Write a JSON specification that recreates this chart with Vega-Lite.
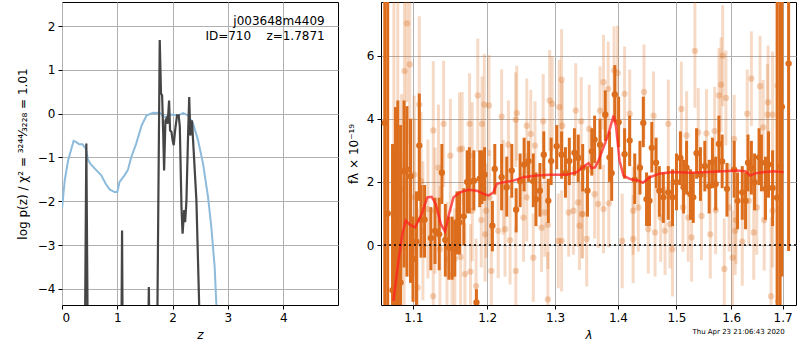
{
  "$schema": "https://vega.github.io/schema/vega-lite/v6.json",
  "padding": {"left": 15, "top": 1, "right": 0, "bottom": 0},
  "background": "white",
  "spacing": 7,
  "config": {
    "view": {"stroke": "black", "strokeWidth": 1},
    "axis": {"grid": true, "gridColor": "#b0b0b0", "gridWidth": 1, "gridOpacity": 1, "domain": false, "tickColor": "black", "tickSize": 4, "labelColor": "black", "labelFont": "DejaVu Sans", "labelFontSize": 12, "titleFont": "DejaVu Sans", "titleFontSize": 12, "titleFontWeight": "normal", "titleColor": "black", "labelPadding": 3},
    "text": {"font": "DejaVu Sans"}
  },
  "datasets": {
    "blue": [
      {"z": 0.0, "lp": -2.17}, {"z": 0.05, "lp": -1.52}, {"z": 0.11, "lp": -1.07}, {"z": 0.17, "lp": -0.8}, {"z": 0.21, "lp": -0.62}, {"z": 0.26, "lp": -0.65}, {"z": 0.31, "lp": -0.7}, {"z": 0.37, "lp": -0.7}, {"z": 0.43, "lp": -0.8}, {"z": 0.47, "lp": -1.05}, {"z": 0.51, "lp": -1.14}, {"z": 0.62, "lp": -1.29}, {"z": 0.71, "lp": -1.41}, {"z": 0.79, "lp": -1.6}, {"z": 0.86, "lp": -1.73}, {"z": 0.95, "lp": -1.79}, {"z": 1.0, "lp": -1.79}, {"z": 1.04, "lp": -1.56}, {"z": 1.13, "lp": -1.41}, {"z": 1.19, "lp": -1.29}, {"z": 1.25, "lp": -1.0}, {"z": 1.34, "lp": -0.69}, {"z": 1.44, "lp": -0.27}, {"z": 1.53, "lp": -0.04}, {"z": 1.65, "lp": 0.02}, {"z": 1.77, "lp": 0.015}, {"z": 1.86, "lp": -0.08}, {"z": 1.98, "lp": -0.02}, {"z": 2.1, "lp": -0.04}, {"z": 2.19, "lp": 0.015}, {"z": 2.28, "lp": -0.04}, {"z": 2.37, "lp": -0.23}, {"z": 2.46, "lp": -0.61}, {"z": 2.55, "lp": -1.14}, {"z": 2.64, "lp": -1.9}, {"z": 2.7, "lp": -2.59}, {"z": 2.76, "lp": -3.5}, {"z": 2.79, "lp": -4.34}, {"z": 2.83, "lp": -5.2}
    ],
    "dark": [
      {"seg": "a", "z": 0.41, "lp": -6}, {"seg": "a", "z": 0.44, "lp": -0.68}, {"seg": "a", "z": 0.47, "lp": -6},
      {"seg": "b", "z": 1.07, "lp": -6}, {"seg": "b", "z": 1.086, "lp": -2.67}, {"seg": "b", "z": 1.1, "lp": -6},
      {"seg": "c", "z": 1.55, "lp": -6}, {"seg": "c", "z": 1.57, "lp": -3.96}, {"seg": "c", "z": 1.59, "lp": -6},
      {"seg": "d", "z": 1.715, "lp": -6}, {"seg": "d", "z": 1.767, "lp": 1.68}, {"seg": "d", "z": 1.79, "lp": 0.46}, {"seg": "d", "z": 1.81, "lp": 0.42}, {"seg": "d", "z": 1.83, "lp": -0.46}, {"seg": "d", "z": 1.846, "lp": -1.3}, {"seg": "d", "z": 1.87, "lp": -0.15}, {"seg": "d", "z": 1.89, "lp": -0.11}, {"seg": "d", "z": 1.91, "lp": -0.23}, {"seg": "d", "z": 1.936, "lp": 0.3}, {"seg": "d", "z": 1.954, "lp": -0.38}, {"seg": "d", "z": 1.98, "lp": -0.42}, {"seg": "d", "z": 2.0, "lp": -0.61}, {"seg": "d", "z": 2.02, "lp": -0.72}, {"seg": "d", "z": 2.045, "lp": -0.38}, {"seg": "d", "z": 2.08, "lp": -0.04}, {"seg": "d", "z": 2.11, "lp": -0.04}, {"seg": "d", "z": 2.13, "lp": -0.3}, {"seg": "d", "z": 2.16, "lp": -2.13}, {"seg": "d", "z": 2.18, "lp": -2.74}, {"seg": "d", "z": 2.21, "lp": -2.2}, {"seg": "d", "z": 2.226, "lp": -2.48}, {"seg": "d", "z": 2.25, "lp": -1.98}, {"seg": "d", "z": 2.28, "lp": -0.46}, {"seg": "d", "z": 2.3, "lp": 0.38}, {"seg": "d", "z": 2.32, "lp": -0.5}, {"seg": "d", "z": 2.35, "lp": -0.15}, {"seg": "d", "z": 2.37, "lp": -0.61}, {"seg": "d", "z": 2.43, "lp": -1.98}, {"seg": "d", "z": 2.48, "lp": -4.37}, {"seg": "d", "z": 2.5, "lp": -6}
    ],
    "labels": [
      {"z": 4.75, "lp": 2.11, "t": "j003648m4409"},
      {"z": 4.75, "lp": 1.77, "t": "ID=710\u00a0\u00a0\u00a0\u00a0z=1.7871"}
    ],
    "light": [
      {"lam": 1.075, "f": 0.9, "lo": -5, "hi": 9}, {"lam": 1.08, "f": -0.5, "lo": -5, "hi": 9},
      {"lam": 1.0917, "f": 7.02, "lo": 4.52, "hi": 9.52}, {"lam": 1.0885, "f": 5.51, "lo": 2.51, "hi": 8.51}, {"lam": 1.0953, "f": 5.72, "lo": 3.22, "hi": 8.22}, {"lam": 1.1077, "f": 4.45, "lo": 1.65, "hi": 7.25}, {"lam": 1.1261, "f": 3.63, "lo": 1.43, "hi": 5.83}, {"lam": 1.1399, "f": 3.84, "lo": 1.84, "hi": 5.84}, {"lam": 1.149, "f": 2.83, "lo": 1.03, "hi": 4.63}, {"lam": 1.1615, "f": 3.03, "lo": 1.23, "hi": 4.83}, {"lam": 1.1753, "f": 3.84, "lo": 2.24, "hi": 5.44}, {"lam": 1.1868, "f": 4.74, "lo": 2.94, "hi": 6.54}, {"lam": 1.1927, "f": 3.84, "lo": 2.34, "hi": 5.34}, {"lam": 1.1959, "f": 4.45, "lo": 2.85, "hi": 6.05},
      {"lam": 1.0849, "f": 1.78, "lo": -1.22, "hi": 4.78}, {"lam": 1.1008, "f": 1.51, "lo": -0.99, "hi": 4.01}, {"lam": 1.101, "f": 2.23, "lo": -0.27, "hi": 4.73}, {"lam": 1.0835, "f": 0.04, "lo": -2.96, "hi": 3.04}, {"lam": 1.088, "f": -0.08, "lo": -3.08, "hi": 2.92}, {"lam": 1.1055, "f": -1.35, "lo": -3.85, "hi": 1.15}, {"lam": 1.1124, "f": 0.45, "lo": -1.75, "hi": 2.65}, {"lam": 1.119, "f": 1.14, "lo": -1.06, "hi": 3.34}, {"lam": 1.126, "f": -1.62, "lo": -3.62, "hi": 0.38}, {"lam": 1.135, "f": -0.13, "lo": -2.13, "hi": 1.87}, {"lam": 1.1445, "f": -0.44, "lo": -2.24, "hi": 1.36}, {"lam": 1.1514, "f": -0.94, "lo": -2.74, "hi": 0.86}, {"lam": 1.155, "f": -0.44, "lo": -2.04, "hi": 1.16}, {"lam": 1.163, "f": -0.38, "lo": -1.98, "hi": 1.22}, {"lam": 1.169, "f": -0.92, "lo": -2.52, "hi": 0.68}, {"lam": 1.1766, "f": -0.84, "lo": -2.34, "hi": 0.66}, {"lam": 1.1844, "f": -1.3, "lo": -2.8, "hi": 0.2}, {"lam": 1.179, "f": 1.09, "lo": -0.51, "hi": 2.69}, {"lam": 1.1917, "f": 0.79, "lo": -0.71, "hi": 2.29}, {"lam": 1.197, "f": 0.34, "lo": -1.16, "hi": 1.84}, {"lam": 1.165, "f": 3.05, "lo": 1.25, "hi": 4.85}, {"lam": 1.179, "f": 2.83, "lo": 1.13, "hi": 4.53}, {"lam": 1.133, "f": 2.45, "lo": 0.45, "hi": 4.45}, {"lam": 1.11, "f": 2.02, "lo": -0.18, "hi": 4.22}, {"lam": 1.1284, "f": 1.09, "lo": -0.91, "hi": 3.09},
      {"lam": 1.2025, "f": 4.42, "lo": 2.82, "hi": 6.02}, {"lam": 1.2426, "f": 4.18, "lo": 2.68, "hi": 5.68}, {"lam": 1.241, "f": 3.97, "lo": 2.47, "hi": 5.47}, {"lam": 1.2206, "f": 4.07, "lo": 2.57, "hi": 5.57}, {"lam": 1.2304, "f": 3.18, "lo": 1.78, "hi": 4.58}, {"lam": 1.2573, "f": 3.78, "lo": 2.28, "hi": 5.28}, {"lam": 1.2632, "f": 3.52, "lo": 2.12, "hi": 4.92}, {"lam": 1.2696, "f": 3.15, "lo": 1.75, "hi": 4.55}, {"lam": 1.2819, "f": 3.92, "lo": 2.42, "hi": 5.42}, {"lam": 1.2917, "f": 4.58, "lo": 2.98, "hi": 6.18}, {"lam": 1.2956, "f": 4.47, "lo": 2.97, "hi": 5.97}, {"lam": 1.3064, "f": 4.37, "lo": 2.87, "hi": 5.87}, {"lam": 1.31, "f": 5.24, "lo": 3.64, "hi": 6.84}, {"lam": 1.311, "f": 3.78, "lo": 2.38, "hi": 5.18}, {"lam": 1.332, "f": 4.26, "lo": 2.76, "hi": 5.76}, {"lam": 1.3407, "f": 3.92, "lo": 2.52, "hi": 5.32},
      {"lam": 1.2034, "f": 1.51, "lo": 0.01, "hi": 3.01}, {"lam": 1.2157, "f": 0.45, "lo": -1.05, "hi": 1.95}, {"lam": 1.2255, "f": 0.5, "lo": -1.0, "hi": 2.0}, {"lam": 1.2328, "f": 0.15, "lo": -1.25, "hi": 1.55}, {"lam": 1.2059, "f": -0.82, "lo": -2.32, "hi": 0.68}, {"lam": 1.2412, "f": -0.82, "lo": -2.22, "hi": 0.58}, {"lam": 1.267, "f": -0.4, "lo": -1.8, "hi": 1.0}, {"lam": 1.2525, "f": 0.87, "lo": -0.53, "hi": 2.27}, {"lam": 1.2794, "f": 0.55, "lo": -0.85, "hi": 1.95}, {"lam": 1.289, "f": -1.72, "lo": -3.22, "hi": -0.22}, {"lam": 1.289, "f": 0.64, "lo": -0.76, "hi": 2.04}, {"lam": 1.305, "f": 0.13, "lo": -1.37, "hi": 1.63}, {"lam": 1.31, "f": 0.13, "lo": -1.47, "hi": 1.73}, {"lam": 1.321, "f": 1.03, "lo": -0.37, "hi": 2.43}, {"lam": 1.3284, "f": 1.09, "lo": -0.31, "hi": 2.49}, {"lam": 1.3358, "f": 1.35, "lo": -0.05, "hi": 2.75}, {"lam": 1.338, "f": 0.61, "lo": -0.79, "hi": 2.01}, {"lam": 1.343, "f": 0.98, "lo": -0.42, "hi": 2.38}, {"lam": 1.2843, "f": 1.03, "lo": -0.37, "hi": 2.43}, {"lam": 1.2573, "f": 1.51, "lo": 0.11, "hi": 2.91}, {"lam": 1.223, "f": 1.83, "lo": 0.33, "hi": 3.33}, {"lam": 1.1985, "f": 1.09, "lo": -0.41, "hi": 2.59},
      {"lam": 1.3764, "f": 5.16, "lo": 3.66, "hi": 6.66}, {"lam": 1.384, "f": 4.95, "lo": 3.45, "hi": 6.45}, {"lam": 1.3937, "f": 5.53, "lo": 4.13, "hi": 6.93}, {"lam": 1.3994, "f": 5.45, "lo": 3.95, "hi": 6.95}, {"lam": 1.411, "f": 4.79, "lo": 3.29, "hi": 6.29}, {"lam": 1.4437, "f": 4.85, "lo": 3.35, "hi": 6.35}, {"lam": 1.46, "f": 4.1, "lo": 2.7, "hi": 5.5}, {"lam": 1.4195, "f": 4.16, "lo": 2.76, "hi": 5.56}, {"lam": 1.3707, "f": 4.26, "lo": 2.86, "hi": 5.66}, {"lam": 1.3534, "f": 3.68, "lo": 2.28, "hi": 5.08}, {"lam": 1.4856, "f": 3.84, "lo": 2.44, "hi": 5.24}, {"lam": 1.5086, "f": 4.31, "lo": 2.81, "hi": 5.81},
      {"lam": 1.3494, "f": 0.19, "lo": -1.31, "hi": 1.69}, {"lam": 1.3764, "f": 1.14, "lo": -0.26, "hi": 2.54}, {"lam": 1.385, "f": 1.32, "lo": -0.08, "hi": 2.72}, {"lam": 1.407, "f": 0.13, "lo": -1.37, "hi": 1.63}, {"lam": 1.4253, "f": 0.19, "lo": -1.21, "hi": 1.59}, {"lam": 1.4253, "f": 1.09, "lo": -0.31, "hi": 2.49}, {"lam": 1.434, "f": 1.19, "lo": -0.21, "hi": 2.59}, {"lam": 1.451, "f": 0.5, "lo": -0.9, "hi": 1.9}, {"lam": 1.4626, "f": 0.4, "lo": -1.0, "hi": 1.8}, {"lam": 1.48, "f": 0.45, "lo": -0.95, "hi": 1.85}, {"lam": 1.493, "f": -0.13, "lo": -1.63, "hi": 1.37}, {"lam": 1.4724, "f": 0.87, "lo": -0.53, "hi": 2.27}, {"lam": 1.4885, "f": 0.66, "lo": -0.74, "hi": 2.06}, {"lam": 1.3678, "f": 1.3, "lo": -0.1, "hi": 2.7}, {"lam": 1.362, "f": 1.61, "lo": 0.21, "hi": 3.01}, {"lam": 1.342, "f": 0.98, "lo": -0.42, "hi": 2.38}, {"lam": 1.5115, "f": 1.19, "lo": -0.21, "hi": 2.59},
      {"lam": 1.533, "f": 6.15, "lo": 4.35, "hi": 7.95}, {"lam": 1.584, "f": 6.0, "lo": 4.4, "hi": 7.6}, {"lam": 1.581, "f": 5.08, "lo": 3.58, "hi": 6.58}, {"lam": 1.577, "f": 4.74, "lo": 3.24, "hi": 6.24}, {"lam": 1.59, "f": 4.66, "lo": 3.16, "hi": 6.16}, {"lam": 1.6385, "f": 5.27, "lo": 3.77, "hi": 6.77}, {"lam": 1.6553, "f": 5.03, "lo": 3.43, "hi": 6.63}, {"lam": 1.518, "f": 3.47, "lo": 2.07, "hi": 4.87}, {"lam": 1.539, "f": 3.57, "lo": 2.17, "hi": 4.97}, {"lam": 1.554, "f": 3.54, "lo": 2.14, "hi": 4.94}, {"lam": 1.569, "f": 3.61, "lo": 2.21, "hi": 5.01}, {"lam": 1.6056, "f": 3.36, "lo": 1.96, "hi": 4.76}, {"lam": 1.6305, "f": 4.16, "lo": 2.76, "hi": 5.56}, {"lam": 1.67, "f": 4.13, "lo": 2.53, "hi": 5.73}, {"lam": 1.671, "f": 4.52, "lo": 2.72, "hi": 6.32}, {"lam": 1.6615, "f": 3.73, "lo": 2.23, "hi": 5.23},
      {"lam": 1.521, "f": 0.87, "lo": -0.53, "hi": 2.27}, {"lam": 1.527, "f": 0.24, "lo": -1.16, "hi": 1.64}, {"lam": 1.545, "f": 0.92, "lo": -0.48, "hi": 2.32}, {"lam": 1.561, "f": 0.34, "lo": -1.06, "hi": 1.74}, {"lam": 1.571, "f": 1.11, "lo": -0.29, "hi": 2.51}, {"lam": 1.587, "f": -0.76, "lo": -2.36, "hi": 0.84}, {"lam": 1.6075, "f": 0.45, "lo": -0.95, "hi": 1.85}, {"lam": 1.609, "f": 0.79, "lo": -0.61, "hi": 2.19}, {"lam": 1.621, "f": 0.11, "lo": -1.29, "hi": 1.51}, {"lam": 1.6025, "f": -0.4, "lo": -1.9, "hi": 1.1}, {"lam": 1.643, "f": 0.4, "lo": -1.1, "hi": 1.9}, {"lam": 1.6634, "f": 0.79, "lo": -0.81, "hi": 2.39}, {"lam": 1.68, "f": 1.09, "lo": -0.71, "hi": 2.89}, {"lam": 1.677, "f": -1.62, "lo": -4.12, "hi": 0.88}, {"lam": 1.691, "f": -1.78, "lo": -4.78, "hi": 1.22}, {"lam": 1.596, "f": 1.19, "lo": -0.21, "hi": 2.59}, {"lam": 1.649, "f": 1.19, "lo": -0.31, "hi": 2.69}, {"lam": 1.6336, "f": 1.4, "lo": 0.0, "hi": 2.8}, {"lam": 1.69, "f": 5.05, "lo": 2.55, "hi": 7.55}, {"lam": 1.68, "f": 4.13, "lo": 2.13, "hi": 6.13}
    ],
    "darkpts": [
      {"lam": 1.0635, "f": 3.87, "lo": -5, "hi": 12}, {"lam": 1.0672, "f": 1.0, "lo": -5, "hi": 12}, {"lam": 1.0733, "f": -1.43, "lo": -3, "hi": 3.2}, {"lam": 1.077, "f": 0.75, "lo": -3, "hi": 4.37}, {"lam": 1.08, "f": -0.92, "lo": -3, "hi": 4.58}, {"lam": 1.0835, "f": -1.19, "lo": -3, "hi": 3.8}, {"lam": 1.088, "f": 2.34, "lo": -0.71, "hi": 4.58}, {"lam": 1.0917, "f": 2.39, "lo": -1.0, "hi": 4.4}, {"lam": 1.0963, "f": 2.18, "lo": -1.2, "hi": 4.0}, {"lam": 1.0995, "f": -0.44, "lo": -1.8, "hi": 0.9}, {"lam": 1.104, "f": 0.11, "lo": -1.9, "hi": 1.7}, {"lam": 1.1077, "f": 3.15, "lo": 1.4, "hi": 4.8}, {"lam": 1.11, "f": 0.8, "lo": -0.4, "hi": 1.9}, {"lam": 1.1146, "f": 0.8, "lo": -0.4, "hi": 1.9}, {"lam": 1.1229, "f": 0.22, "lo": -0.8, "hi": 1.2}, {"lam": 1.1284, "f": 0.45, "lo": -0.6, "hi": 1.5}, {"lam": 1.134, "f": 0.34, "lo": -0.8, "hi": 1.5}, {"lam": 1.1376, "f": 2.29, "lo": 1.3, "hi": 3.2}, {"lam": 1.1422, "f": 0.16, "lo": -1.0, "hi": 1.3}, {"lam": 1.147, "f": -0.08, "lo": -1.1, "hi": 0.9}, {"lam": 1.1514, "f": -0.1, "lo": -1.1, "hi": 0.9}, {"lam": 1.155, "f": -0.1, "lo": -1.0, "hi": 0.8}, {"lam": 1.158, "f": 0.72, "lo": -0.3, "hi": 1.7}, {"lam": 1.1615, "f": 0.72, "lo": -0.3, "hi": 1.7}, {"lam": 1.1674, "f": 0.91, "lo": 0.0, "hi": 1.8}, {"lam": 1.172, "f": 2.0, "lo": 1.0, "hi": 3.0}, {"lam": 1.175, "f": 2.0, "lo": 1.0, "hi": 3.1}, {"lam": 1.1813, "f": 2.04, "lo": 1.1, "hi": 3.0}, {"lam": 1.1849, "f": -1.82, "lo": -2.2, "hi": -1.4}, {"lam": 1.1895, "f": 2.1, "lo": 1.2, "hi": 3.0}, {"lam": 1.1927, "f": 2.18, "lo": 1.3, "hi": 3.0}, {"lam": 1.1963, "f": 2.23, "lo": 1.4, "hi": 3.1},
      {"lam": 1.2074, "f": 0.61, "lo": -0.2, "hi": 1.4}, {"lam": 1.2108, "f": 2.41, "lo": 1.6, "hi": 3.2}, {"lam": 1.2206, "f": 2.15, "lo": 1.1, "hi": 3.2}, {"lam": 1.228, "f": 1.83, "lo": 0.9, "hi": 2.8}, {"lam": 1.2353, "f": 2.36, "lo": 1.5, "hi": 3.2}, {"lam": 1.2417, "f": 1.12, "lo": 0.4, "hi": 1.8}, {"lam": 1.2475, "f": 2.02, "lo": 1.2, "hi": 2.9}, {"lam": 1.2534, "f": 2.55, "lo": 1.7, "hi": 3.4}, {"lam": 1.26, "f": 2.66, "lo": 2.0, "hi": 3.3}, {"lam": 1.267, "f": 2.02, "lo": 1.2, "hi": 2.9}, {"lam": 1.271, "f": 1.45, "lo": 0.6, "hi": 2.3}, {"lam": 1.277, "f": 1.72, "lo": 0.9, "hi": 2.6}, {"lam": 1.2828, "f": 2.86, "lo": 2.1, "hi": 3.6}, {"lam": 1.2897, "f": 1.4, "lo": 0.7, "hi": 2.1}, {"lam": 1.294, "f": 2.66, "lo": 1.9, "hi": 3.4}, {"lam": 1.3025, "f": 3.13, "lo": 2.4, "hi": 3.8}, {"lam": 1.31, "f": 2.86, "lo": 2.1, "hi": 3.6}, {"lam": 1.316, "f": 2.28, "lo": 1.5, "hi": 3.1}, {"lam": 1.322, "f": 2.66, "lo": 1.9, "hi": 3.4}, {"lam": 1.33, "f": 2.92, "lo": 2.2, "hi": 3.7}, {"lam": 1.336, "f": 2.76, "lo": 2.0, "hi": 3.5}, {"lam": 1.343, "f": 2.45, "lo": 1.7, "hi": 3.2},
      {"lam": 1.3506, "f": 1.72, "lo": 0.9, "hi": 2.5}, {"lam": 1.3575, "f": 2.97, "lo": 2.2, "hi": 3.7}, {"lam": 1.362, "f": 3.34, "lo": 2.6, "hi": 4.1}, {"lam": 1.3707, "f": 3.18, "lo": 2.4, "hi": 4.0}, {"lam": 1.3793, "f": 4.13, "lo": 3.3, "hi": 4.9}, {"lam": 1.3862, "f": 2.78, "lo": 2.0, "hi": 3.6}, {"lam": 1.3897, "f": 2.28, "lo": 1.4, "hi": 3.1}, {"lam": 1.3948, "f": 4.77, "lo": 3.9, "hi": 5.7}, {"lam": 1.4011, "f": 3.89, "lo": 3.1, "hi": 4.7}, {"lam": 1.411, "f": 2.88, "lo": 2.1, "hi": 3.7}, {"lam": 1.4195, "f": 3.31, "lo": 2.5, "hi": 4.1}, {"lam": 1.428, "f": 2.07, "lo": 1.3, "hi": 2.9}, {"lam": 1.4368, "f": 2.45, "lo": 1.6, "hi": 3.3}, {"lam": 1.4425, "f": 3.87, "lo": 3.1, "hi": 4.7}, {"lam": 1.448, "f": 1.45, "lo": 0.6, "hi": 2.3}, {"lam": 1.453, "f": 1.4, "lo": 0.6, "hi": 2.2}, {"lam": 1.457, "f": 3.08, "lo": 2.3, "hi": 3.9}, {"lam": 1.4644, "f": 2.61, "lo": 1.8, "hi": 3.4}, {"lam": 1.47, "f": 1.72, "lo": 0.9, "hi": 2.5}, {"lam": 1.477, "f": 1.51, "lo": 0.7, "hi": 2.3}, {"lam": 1.4856, "f": 1.67, "lo": 0.8, "hi": 2.5}, {"lam": 1.493, "f": 1.51, "lo": 0.6, "hi": 2.4}, {"lam": 1.5, "f": 1.99, "lo": 1.1, "hi": 2.9}, {"lam": 1.507, "f": 2.76, "lo": 1.9, "hi": 3.6}, {"lam": 1.5126, "f": 1.83, "lo": 1.0, "hi": 2.7},
      {"lam": 1.518, "f": 2.45, "lo": 1.6, "hi": 3.3}, {"lam": 1.525, "f": 1.61, "lo": 0.8, "hi": 2.4}, {"lam": 1.53, "f": 1.51, "lo": 0.7, "hi": 2.3}, {"lam": 1.536, "f": 2.91, "lo": 2.1, "hi": 3.7}, {"lam": 1.543, "f": 2.23, "lo": 1.4, "hi": 3.1}, {"lam": 1.551, "f": 2.5, "lo": 1.7, "hi": 3.3}, {"lam": 1.559, "f": 1.86, "lo": 1.0, "hi": 2.7}, {"lam": 1.565, "f": 2.62, "lo": 1.8, "hi": 3.4}, {"lam": 1.571, "f": 1.93, "lo": 1.1, "hi": 2.8}, {"lam": 1.577, "f": 3.2, "lo": 2.3, "hi": 4.1}, {"lam": 1.583, "f": 2.65, "lo": 1.8, "hi": 3.5}, {"lam": 1.592, "f": 1.78, "lo": 0.9, "hi": 2.6}, {"lam": 1.6056, "f": 2.39, "lo": 1.5, "hi": 3.3}, {"lam": 1.612, "f": 1.4, "lo": 0.5, "hi": 2.3}, {"lam": 1.621, "f": 1.67, "lo": 0.8, "hi": 2.5}, {"lam": 1.6273, "f": 1.4, "lo": 0.5, "hi": 2.3}, {"lam": 1.632, "f": 2.61, "lo": 1.7, "hi": 3.5}, {"lam": 1.6385, "f": 2.45, "lo": 1.6, "hi": 3.3}, {"lam": 1.6447, "f": 1.99, "lo": 1.1, "hi": 2.9}, {"lam": 1.6534, "f": 2.78, "lo": 1.9, "hi": 3.7}, {"lam": 1.658, "f": 2.61, "lo": 1.7, "hi": 3.5}, {"lam": 1.666, "f": 1.78, "lo": 0.8, "hi": 2.8}, {"lam": 1.672, "f": 2.55, "lo": 1.5, "hi": 3.6}, {"lam": 1.68, "f": 1.81, "lo": 0.6, "hi": 3.0},
      {"lam": 1.689, "f": 1.5, "lo": -5, "hi": 12}, {"lam": 1.695, "f": 2.5, "lo": -5, "hi": 12}, {"lam": 1.6985, "f": 4.38, "lo": -1.0, "hi": 12}, {"lam": 1.712, "f": 5.75, "lo": -0.19, "hi": 12}
    ],
    "model": [
      {"lam": 1.0744, "f": -1.77}, {"lam": 1.0808, "f": -0.5}, {"lam": 1.0858, "f": 0.35}, {"lam": 1.0901, "f": 0.77}, {"lam": 1.0956, "f": 0.64}, {"lam": 1.1021, "f": 0.56}, {"lam": 1.1108, "f": 0.98}, {"lam": 1.1183, "f": 1.51}, {"lam": 1.124, "f": 1.53}, {"lam": 1.1297, "f": 1.28}, {"lam": 1.136, "f": 0.67}, {"lam": 1.1418, "f": 0.43}, {"lam": 1.1472, "f": 0.98}, {"lam": 1.1532, "f": 1.51}, {"lam": 1.1622, "f": 1.67}, {"lam": 1.1737, "f": 1.75}, {"lam": 1.1853, "f": 1.72}, {"lam": 1.1947, "f": 1.62}, {"lam": 1.2018, "f": 1.57}, {"lam": 1.2089, "f": 1.67}, {"lam": 1.2136, "f": 1.94}, {"lam": 1.2232, "f": 1.99}, {"lam": 1.2377, "f": 2.04}, {"lam": 1.2524, "f": 2.15}, {"lam": 1.2722, "f": 2.2}, {"lam": 1.2923, "f": 2.23}, {"lam": 1.318, "f": 2.23}, {"lam": 1.3337, "f": 2.31}, {"lam": 1.3468, "f": 2.52}, {"lam": 1.3522, "f": 2.59}, {"lam": 1.3575, "f": 2.44}, {"lam": 1.3628, "f": 2.46}, {"lam": 1.3683, "f": 2.68}, {"lam": 1.3764, "f": 3.1}, {"lam": 1.3845, "f": 3.52}, {"lam": 1.3927, "f": 4.1}, {"lam": 1.397, "f": 3.73}, {"lam": 1.4026, "f": 2.68}, {"lam": 1.4092, "f": 2.2}, {"lam": 1.4203, "f": 2.09}, {"lam": 1.4344, "f": 2.04}, {"lam": 1.4417, "f": 1.97}, {"lam": 1.4542, "f": 2.15}, {"lam": 1.4714, "f": 2.27}, {"lam": 1.4948, "f": 2.31}, {"lam": 1.5244, "f": 2.29}, {"lam": 1.5547, "f": 2.31}, {"lam": 1.5857, "f": 2.34}, {"lam": 1.6108, "f": 2.36}, {"lam": 1.6266, "f": 2.34}, {"lam": 1.6362, "f": 2.2}, {"lam": 1.6459, "f": 2.27}, {"lam": 1.6623, "f": 2.31}, {"lam": 1.682, "f": 2.34}, {"lam": 1.702, "f": 2.31}
    ]
  },
  "hconcat": [
    {
      "width": 276,
      "height": 303,
      "layer": [
        {
          "data": {"name": "blue"},
          "mark": {"type": "line", "color": "#8dbbdc", "strokeWidth": 2, "clip": true},
          "encoding": {
            "x": {"field": "z", "type": "quantitative", "scale": {"domain": [0, 4.99], "nice": false, "zero": false}, "axis": {"values": [0, 1, 2, 3, 4], "title": "z", "titleFontStyle": "italic", "titlePadding": 6}},
            "y": {"field": "lp", "type": "quantitative", "scale": {"domain": [-4.37, 2.55], "nice": false, "zero": false}, "axis": {"values": [-4, -3, -2, -1, 0, 1, 2], "title": "log p(z) / χ² = ³²⁴⁴⁄₃₂₂₈ = 1.01", "titlePadding": 8}}
          }
        },
        {
          "data": {"name": "dark"},
          "mark": {"type": "line", "color": "#454545", "strokeWidth": 2.2, "clip": true},
          "encoding": {
            "x": {"field": "z", "type": "quantitative"},
            "y": {"field": "lp", "type": "quantitative"},
            "detail": {"field": "seg", "type": "nominal"}
          }
        },
        {
          "data": {"name": "labels"},
          "mark": {"type": "text", "align": "right", "baseline": "middle", "fontSize": 12, "color": "black"},
          "encoding": {
            "x": {"field": "z", "type": "quantitative"},
            "y": {"field": "lp", "type": "quantitative"},
            "text": {"field": "t", "type": "nominal"}
          }
        }
      ]
    },
    {
      "width": 415,
      "height": 303,
      "title": {"text": "Thu Apr 23 21:06:43 2020", "orient": "bottom", "anchor": "end", "fontSize": 7, "fontWeight": "normal", "font": "DejaVu Sans", "color": "black", "offset": -12, "dx": -12},
      "layer": [
        {
          "data": {"name": "light"},
          "mark": {"type": "rule", "color": "#dc6d1c", "opacity": 0.25, "strokeWidth": 3, "clip": true},
          "encoding": {
            "x": {"field": "lam", "type": "quantitative", "scale": {"type": "log", "domain": [1.0588, 1.727], "nice": false}, "axis": {"values": [1.1, 1.2, 1.3, 1.4, 1.5, 1.6, 1.7], "format": ".1f", "title": "λ", "titleFontStyle": "italic", "titlePadding": 6}},
            "y": {"field": "lo", "type": "quantitative", "scale": {"domain": [-1.9, 7.7], "nice": false, "zero": false}, "axis": {"values": [0, 2, 4, 6], "title": "fλ × 10⁻¹⁹", "titlePadding": 6}},
            "y2": {"field": "hi"}
          }
        },
        {
          "data": {"name": "light"},
          "mark": {"type": "circle", "color": "#dc6d1c", "opacity": 0.3, "size": 40, "clip": true},
          "encoding": {
            "x": {"field": "lam", "type": "quantitative"},
            "y": {"field": "f", "type": "quantitative"}
          }
        },
        {
          "data": {"name": "darkpts"},
          "mark": {"type": "rule", "color": "#dc6d1c", "strokeWidth": 3, "clip": true},
          "encoding": {
            "x": {"field": "lam", "type": "quantitative"},
            "y": {"field": "lo", "type": "quantitative"},
            "y2": {"field": "hi"}
          }
        },
        {
          "data": {"name": "darkpts"},
          "mark": {"type": "circle", "color": "#dc6d1c", "opacity": 1, "size": 40, "clip": true},
          "encoding": {
            "x": {"field": "lam", "type": "quantitative"},
            "y": {"field": "f", "type": "quantitative"}
          }
        },
        {
          "data": {"name": "model"},
          "mark": {"type": "line", "color": "#ff2020", "opacity": 0.75, "strokeWidth": 2.5, "clip": true},
          "encoding": {
            "x": {"field": "lam", "type": "quantitative"},
            "y": {"field": "f", "type": "quantitative"}
          }
        },
        {
          "data": {"values": [{"v": 0}]},
          "mark": {"type": "rule", "color": "black", "strokeWidth": 1.5, "strokeDash": [2, 3]},
          "encoding": {"y": {"field": "v", "type": "quantitative"}}
        }
      ]
    }
  ]
}
